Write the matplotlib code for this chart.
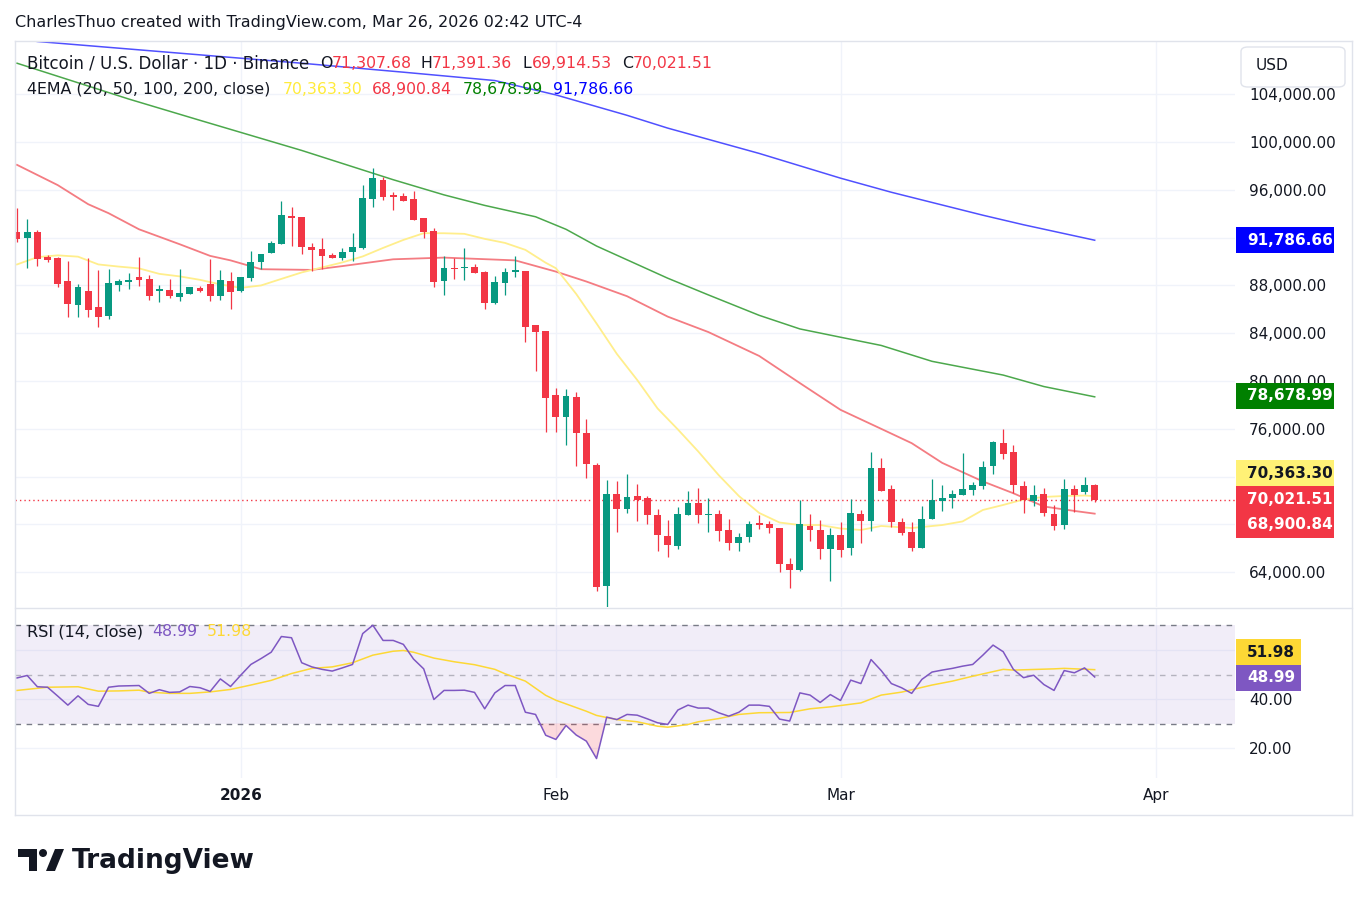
import numpy as np
import pandas as pd
import matplotlib
matplotlib.use("Agg")
import matplotlib.pyplot as plt
from matplotlib.patches import Rectangle, FancyBboxPatch, Ellipse, Polygon
from matplotlib.lines import Line2D

# ---- data (BTC/USD daily, Binance) ----
dates = pd.date_range("2025-12-10", "2026-03-26", freq="D")

opens = [92511, 92009, 92511, 90418, 90334, 88380, 86399, 87543, 86231, 85478,
         88045, 88325, 88715, 88548, 87571, 87627, 87069, 87320, 87794, 88129,
         87152, 88380, 87571, 88660, 89999, 90753, 91506, 93795, 93739, 91227,
         91060, 90558, 90306, 90836, 91143, 95274, 96837, 95581, 95498, 95247,
         93655, 92567, 88408, 89469, 89469, 89553, 89134, 86510, 88241, 89162,
         89218, 84697, 84194, 78835, 77021, 78703, 75689, 73009, 62878, 70553,
         69269, 70414, 70246, 68823, 67065, 66172, 68823, 69828, 68767, 68910,
         67571, 66427, 66929, 68073, 68073, 67738, 64724, 64166, 67906, 67571,
         65924, 67152, 66008, 68910, 68268, 72762, 71004, 68241, 67406, 66010,
         68439, 69946, 70197, 70448, 70867, 71202, 72877, 74774, 74021, 71230,
         69946, 70588, 68913, 67936, 70979, 70700, 71307.68]
highs = [94521, 93572, 92651, 90585, 90418, 90083, 88129, 90306, 89301, 89385,
         88548, 89078, 90418, 88883, 88045, 88548, 89385, 87900, 87962, 90222,
         89301, 89134, 88715, 90892, 90641, 91757, 95079, 94604, 93739, 91534,
         91981, 90725, 91143, 92399, 96418, 97842, 97116, 95832, 95721, 95916,
         93655, 92846, 90474, 90306, 91171, 89832, 89218, 88799, 89497, 90474,
         89218, 84697, 84194, 79394, 79338, 79094, 76833, 73149, 71754, 71670,
         72228, 71391, 70414, 69325, 68404, 69437, 70776, 71028, 70190, 69245,
         68492, 67320, 68324, 68827, 68324, 67738, 65226, 70083, 68910, 68408,
         67738, 68241, 70166, 69245, 74102, 73599, 71339, 68560, 68243, 69555,
         71816, 71341, 70867, 73937, 71565, 73267, 74942, 75974, 74607, 71593,
         71341, 71090, 69667, 71816, 71313, 72011, 71391.36]
lows = [91674, 89441, 89664, 89999, 87850, 85394, 85394, 85394, 84557, 85171,
        87571, 87738, 87962, 86790, 86650, 86985, 86706, 87300, 87460, 86734,
        86818, 86064, 87487, 88408, 89385, 90753, 91506, 91311, 90669, 89246,
        89385, 90334, 90139, 90055, 91060, 94604, 95163, 94297, 95107, 93488,
        92009, 87906, 87208, 88576, 88464, 89078, 86064, 86455, 87208, 88743,
        83301, 80873, 75765, 75765, 74649, 72926, 71865, 62403, 60980, 67399,
        68934, 68320, 68013, 65809, 65250, 65920, 68767, 68097, 67344, 66650,
        65896, 65757, 66510, 67654, 67264, 64004, 62659, 64082, 66650, 65087,
        63245, 65254, 65422, 66427, 67431, 70781, 67822, 67096, 65759, 66010,
        68439, 69109, 69360, 70448, 70448, 70979, 72207, 73463, 70616, 68941,
        69527, 68690, 67517, 67601, 69025, 70560, 69914.53]
closes = [91897, 92511, 90222, 90139, 88129, 86455, 87906, 85980, 85394, 88241,
          88380, 88464, 88492, 87152, 87710, 87152, 87348, 87878, 87543, 87152,
          88464, 87487, 88715, 89971, 90641, 91562, 93907, 93683, 91255, 91004,
          90502, 90334, 90808, 91227, 95330, 97005, 95442, 95442, 95107, 93488,
          92511, 88325, 89469, 89385, 89553, 89078, 86566, 88297, 89134, 89274,
          84557, 84138, 78612, 77021, 78752, 75633, 73037, 62738, 70553, 69269,
          70330, 70051, 68767, 67093, 66255, 68879, 69828, 68767, 68879, 67487,
          66427, 66985, 68073, 67989, 67682, 64668, 64166, 68073, 67515, 65924,
          67152, 65840, 68994, 68268, 72762, 70781, 68185, 67264, 66010, 68494,
          70030, 70253, 70588, 71006, 71258, 72765, 74858, 73881, 71286, 70030,
          70504, 68941, 67852, 70979, 70504, 71307.68, 70021.51]

# EMA lines
ema20_dates = ["2025-12-10", "2025-12-12", "2025-12-14", "2025-12-16", "2025-12-18", "2025-12-20",
               "2025-12-22", "2025-12-24", "2025-12-26", "2025-12-28", "2025-12-30", "2026-01-01",
               "2026-01-03", "2026-01-05", "2026-01-07", "2026-01-09", "2026-01-11", "2026-01-13",
               "2026-01-15", "2026-01-17", "2026-01-19", "2026-01-21", "2026-01-23", "2026-01-25",
               "2026-01-27", "2026-01-29", "2026-01-31", "2026-02-01", "2026-02-03", "2026-02-05",
               "2026-02-07", "2026-02-09", "2026-02-11", "2026-02-13", "2026-02-15", "2026-02-17",
               "2026-02-19", "2026-02-21", "2026-02-23", "2026-02-25", "2026-02-27", "2026-03-01",
               "2026-03-03", "2026-03-05", "2026-03-08", "2026-03-11", "2026-03-13", "2026-03-15",
               "2026-03-17", "2026-03-19", "2026-03-21", "2026-03-23", "2026-03-25", "2026-03-26"]
ema20_vals = [89760, 90370, 90520, 90410, 89760, 89580, 89430, 88970, 88760, 88470, 88090, 87800,
              88000, 88550, 89090, 89510, 89930, 90430, 91140, 91810, 92375, 92370, 92320, 91900,
              91560, 90980, 89900, 89445, 87290, 84820, 82270, 80090, 77710, 75950, 74110, 72140,
              70380, 68960, 68160, 67950, 67950, 67660, 67535, 67870, 67700, 67950, 68250, 69210,
              69630, 70090, 70300, 70380, 70420, 70363.30]

ema50_dates = ["2025-12-10", "2025-12-14", "2025-12-17", "2025-12-19", "2025-12-22", "2025-12-26",
               "2025-12-29", "2025-12-31", "2026-01-03", "2026-01-08", "2026-01-11", "2026-01-16",
               "2026-01-21", "2026-01-28", "2026-02-01", "2026-02-04", "2026-02-08", "2026-02-12",
               "2026-02-16", "2026-02-21", "2026-02-25", "2026-03-01", "2026-03-05", "2026-03-08",
               "2026-03-11", "2026-03-15", "2026-03-18", "2026-03-21", "2026-03-24", "2026-03-26"]
ema50_vals = [98093, 96400, 94800, 94050, 92700, 91450, 90474, 90100, 89361, 89302, 89620, 90190,
              90332, 90100, 89160, 88330, 87100, 85393, 84100, 82100, 79830, 77590, 76000, 74800,
              73150, 71600, 70608, 69500, 69130, 68900.84]

ema100_dates = ["2025-12-10", "2025-12-21", "2025-12-28", "2026-01-07", "2026-01-16", "2026-01-21",
                "2026-01-25", "2026-01-30", "2026-02-02", "2026-02-05", "2026-02-12", "2026-02-16",
                "2026-02-21", "2026-02-25", "2026-03-01", "2026-03-05", "2026-03-10", "2026-03-17",
                "2026-03-21", "2026-03-26"]
ema100_vals = [106600, 103600, 101819, 99300, 96850, 95581, 94700, 93750, 92700, 91300, 88608,
               87209, 85500, 84362, 83668, 82980, 81650, 80500, 79540, 78678.99]

ema200_dates = ["2025-12-10", "2025-12-12", "2026-01-07", "2026-01-17", "2026-01-26", "2026-02-01",
                "2026-02-08", "2026-02-12", "2026-02-21", "2026-03-01", "2026-03-06", "2026-03-15",
                "2026-03-19", "2026-03-26"]
ema200_vals = [108700, 108420, 106600, 105850, 105150, 103950, 102240, 101170, 99050, 96980,
               95800, 93880, 93080, 91786.66]

rsi_vals = [48.6, 49.6, 45.0, 44.8, 41.2, 37.5, 41.3, 37.8, 37.0, 44.8,
            45.3, 45.4, 45.5, 42.3, 43.8, 42.7, 42.9, 45.1, 44.6, 43.1,
            48.2, 45.1, 49.7, 54.1, 56.5, 59.1, 65.5, 65.0, 54.8, 53.1,
            52.1, 51.4, 52.7, 54.1, 66.7, 70.1, 63.9, 63.9, 62.3, 56.3,
            52.3, 39.8, 43.5, 43.5, 43.6, 42.7, 36.0, 42.5, 45.5, 45.5,
            34.6, 33.7, 25.2, 23.5, 29.2, 25.3, 22.8, 15.7, 32.6, 31.6,
            33.7, 33.4, 31.9, 30.3, 29.6, 35.5, 37.5, 36.3, 36.3, 34.4,
            33.0, 34.6, 37.5, 37.5, 37.0, 31.8, 31.0, 42.5, 41.6, 38.6,
            41.8, 39.4, 47.7, 46.3, 56.1, 51.6, 46.3, 44.6, 42.3, 48.0,
            51.0, 51.8, 52.5, 53.4, 54.1, 57.9, 62.0, 59.3, 52.1, 48.7,
            49.7, 45.9, 43.5, 51.6, 50.7, 52.7, 48.99]

rsi_ma_dates = ["2025-12-10", "2025-12-13", "2025-12-16", "2025-12-18", "2025-12-20", "2025-12-22",
                "2025-12-23", "2025-12-25", "2025-12-27", "2025-12-29", "2025-12-31", "2026-01-02",
                "2026-01-04", "2026-01-06", "2026-01-08", "2026-01-10", "2026-01-12", "2026-01-14",
                "2026-01-16", "2026-01-17", "2026-01-18", "2026-01-20", "2026-01-22", "2026-01-24",
                "2026-01-26", "2026-01-27", "2026-01-29", "2026-01-31", "2026-02-01", "2026-02-02",
                "2026-02-04", "2026-02-05", "2026-02-07", "2026-02-09", "2026-02-11", "2026-02-12",
                "2026-02-14", "2026-02-15", "2026-02-17", "2026-02-19", "2026-02-21", "2026-02-24",
                "2026-02-26", "2026-02-28", "2026-03-03", "2026-03-05", "2026-03-07", "2026-03-10",
                "2026-03-12", "2026-03-14", "2026-03-17", "2026-03-18", "2026-03-22", "2026-03-23",
                "2026-03-26"]
rsi_ma_vals = [43.5, 44.8, 45.0, 43.2, 43.3, 43.6, 42.8, 42.3, 42.3, 42.9, 43.9, 45.7,
               47.6, 50.4, 52.5, 53.1, 54.8, 57.9, 59.5, 59.8, 59.1, 56.7, 55.2, 54.0,
               52.1, 50.3, 47.3, 41.5, 39.5, 38.0, 35.0, 33.3, 31.6, 30.7, 28.9, 28.5,
               29.6, 30.7, 32.0, 33.7, 34.4, 34.5, 36.0, 36.8, 38.4, 41.6, 42.8, 45.7,
               47.3, 49.3, 52.1, 51.8, 52.3, 52.5, 51.98]

month_ticks = ["2026-01-01", "2026-02-01", "2026-03-01", "2026-04-01"]
month_labels = ["2026", "Feb", "Mar", "Apr"]
price_ticks = list(range(64000, 104001, 4000))
hidden_price = [92000, 72000, 68000]   # covered by the value tags on the scale
rsi_ticks = [20, 40, 60]

UP, DOWN = "#089981", "#F23645"
TXT = "#131722"
GRID = "#F0F3FA"
BORDER = "#E0E3EB"

W, H = 1367, 906
plt.rcParams["font.family"] = ["DejaVu Sans"]
fig = plt.figure(figsize=(W / 100, H / 100), dpi=100)


def fx(x):
    return x / W


def fy(y):
    return 1 - y / H


def day_idx(dlist):
    return np.array([(pd.Timestamp(d) - dates[0]).days for d in dlist])


days = np.arange(len(dates))
ax = fig.add_axes([fx(15), fy(607), (1235 - 15) / W, (607 - 41) / H])
rax = fig.add_axes([fx(15), fy(778), (1235 - 15) / W, (778 - 608) / H])

for a in (ax, rax):
    a.set_xlim(-0.2, 119.8)
    for s in a.spines.values():
        s.set_visible(False)
    a.set_xticks(day_idx(month_ticks))
    a.grid(True, color=GRID, lw=1)
    a.set_axisbelow(True)
    a.yaxis.tick_right()
    a.tick_params(axis="y", length=0, pad=10, labelsize=11, labelcolor=TXT)
    a.tick_params(axis="x", length=0)

# ---- price pane ----
ax.set_ylim(61089, 108460)
ax.set_yticks(price_ticks)
ax.set_yticklabels(["" if v in hidden_price else "{:,.2f}".format(v) for v in price_ticks])
ax.tick_params(axis="x", labelbottom=False)

o, h, l, c = map(np.array, (opens, highs, lows, closes))
cols = np.where(c >= o, UP, DOWN)
ax.vlines(days, l, h, colors=cols, lw=0.9, zorder=3)
ax.bar(days, np.maximum(np.abs(c - o), 90), bottom=np.minimum(o, c), width=0.68,
       color=cols, lw=0, zorder=4)

ax.plot(day_idx(ema200_dates), ema200_vals, color="#5050FF", lw=1.1, zorder=2)
ax.plot(day_idx(ema100_dates), ema100_vals, color="#4CA84C", lw=1.1, zorder=2)
ax.plot(day_idx(ema50_dates), ema50_vals, color="#F47C82", lw=1.3, zorder=2)
ax.plot(day_idx(ema20_dates), ema20_vals, color="#FFEE8C", lw=1.3, zorder=2)
ax.axhline(closes[-1], color=DOWN, ls=(0, (1, 2.2)), lw=1, zorder=2)

# ---- RSI pane ----
rsi = np.array(rsi_vals)
rax.set_ylim(7.76, 77.14)
rax.set_yticks(rsi_ticks)
rax.set_yticklabels(["" if v == 60 else "{:.2f}".format(v) for v in rsi_ticks])
rax.axhspan(30, 70, color="#7E57C2", alpha=0.1, lw=0, zorder=1)
for lvl, al in ((70, 1), (50, 0.5), (30, 1)):
    rax.axhline(lvl, color="#787B86", alpha=al, lw=1, ls=(0, (4, 4)), zorder=2)
rax.fill_between(days, rsi, 30, where=rsi < 30, interpolate=True, color=DOWN, alpha=0.18,
                 lw=0, zorder=2)
rax.plot(day_idx(rsi_ma_dates), rsi_ma_vals, color="#FDD835", lw=1.1, zorder=3)
rax.plot(days, rsi, color="#7E57C2", lw=1.1, zorder=4)
rax.set_xticklabels(month_labels)
rax.tick_params(axis="x", pad=7.5, labelsize=11, labelcolor=TXT)
rax.get_xticklabels()[0].set_fontweight("bold")

# ---- frame ----
for (x0, y0, x1, y1) in ((15, 41, 1352, 41), (15, 815, 1352, 815), (15, 41, 15, 815),
                         (1352, 41, 1352, 815), (15, 608, 1352, 608)):
    fig.add_artist(Line2D([fx(x0), fx(x1)], [fy(y0), fy(y1)], color=BORDER, lw=1,
                          transform=fig.transFigure))

fig.add_artist(FancyBboxPatch((fx(1241), fy(87)), (1345 - 1241) / W, 40 / H,
                              boxstyle="round,pad=0,rounding_size=0.005", fc="white",
                              ec=BORDER, lw=1, transform=fig.transFigure, zorder=5))
fig.text(fx(1256), fy(65), "USD", fontsize=11, color=TXT, va="center", zorder=6)


# ---- axis tags ----
def tag(axis, value, text, fc, tc, dy=0, x1=1334):
    yd = axis.transData.transform((0, value))[1] / H + dy / H
    fig.add_artist(Rectangle((fx(1236), yd - 13 / H), (x1 - 1236) / W, 26 / H, fc=fc, ec="none",
                             transform=fig.transFigure, zorder=5))
    fig.text(fx(1247), yd, text, fontsize=11, fontweight="bold", color=tc, va="center", zorder=6)


tag(ax, ema200_vals[-1], "91,786.66", "#0000FF", "white")
tag(ax, ema100_vals[-1], "78,678.99", "#008000", "white", dy=1)
tag(ax, ema20_vals[-1], "70,363.30", "#FFF176", TXT, dy=23)
tag(ax, closes[-1], "70,021.51", DOWN, "white", dy=1)
tag(ax, ema50_vals[-1], "68,900.84", DOWN, "white", dy=-11)
tag(rax, rsi_ma_vals[-1], "51.98", "#FDD835", TXT, dy=17.5, x1=1301)
tag(rax, rsi_vals[-1], "48.99", "#7E57C2", "white", dy=-1, x1=1301)

# ---- header / legends ----
fig.text(fx(15), fy(22), "CharlesThuo created with TradingView.com, Mar 26, 2026 02:42 UTC-4",
         fontsize=11.5, color=TXT, va="center")

legend1 = [(27, "Bitcoin / U.S. Dollar · 1D · Binance", TXT), (320, "O", TXT),
           (332, "71,307.68", DOWN), (421, "H", TXT), (432, "71,391.36", DOWN),
           (522, "L", TXT), (532, "69,914.53", DOWN), (622, "C", TXT), (633, "70,021.51", DOWN)]
legend2 = [(27, "4EMA (20, 50, 100, 200, close)", TXT), (283, "70,363.30", "#FFEB3B"),
           (372, "68,900.84", "#F23645"), (463, "78,678.99", "#008000"),
           (553, "91,786.66", "#0000FF")]
legend3 = [(27, "RSI (14, close)", TXT), (152, "48.99", "#7E57C2"), (207, "51.98", "#FDD835")]
for ypix, first_fs, items in ((63, 12, legend1), (89, 11.4, legend2), (632, 11.6, legend3)):
    for i, (xpix, s, colr) in enumerate(items):
        fs = first_fs if i == 0 else 11.3
        fig.text(fx(xpix), fy(ypix), s, fontsize=fs, color=colr, va="center", zorder=6)

# ---- TradingView logo ----
logo = "#131722"
fig.add_artist(Rectangle((fx(18), fy(857)), 19 / W, 8 / H, fc=logo, ec="none",
                         transform=fig.transFigure))
fig.add_artist(Rectangle((fx(29), fy(871)), 8 / W, 22 / H, fc=logo, ec="none",
                         transform=fig.transFigure))
fig.add_artist(Ellipse((fx(43), fy(853)), 8 / W, 8 / H, fc=logo, ec="none",
                       transform=fig.transFigure))
fig.add_artist(Polygon([(fx(46), fy(871)), (fx(55), fy(849)), (fx(64), fy(849)),
                        (fx(55), fy(871))], closed=True, fc=logo, ec="none",
                       transform=fig.transFigure))
fig.text(fx(72), fy(861), "TradingView", fontsize=19, fontweight="bold", color=logo,
         va="center")

fig.savefig("out.png", dpi=100)
